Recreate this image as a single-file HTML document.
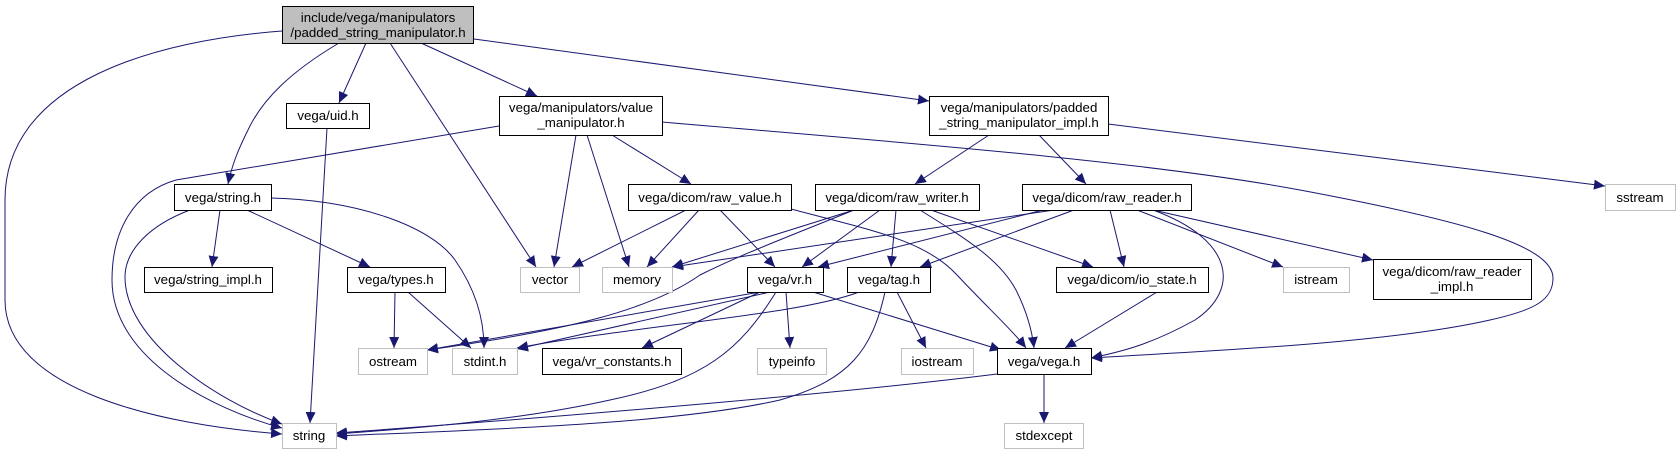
<!DOCTYPE html>
<html><head><meta charset="utf-8"><style>
html,body{margin:0;padding:0;background:#fff;}
svg{display:block}
text{font-family:"Liberation Sans",sans-serif;font-size:13.3px;fill:#000;}
</style></head><body>
<svg width="1680" height="455" viewBox="0 0 1680 455" xmlns="http://www.w3.org/2000/svg">
<defs>
<marker id="a" markerUnits="userSpaceOnUse" markerWidth="12" markerHeight="10" refX="11" refY="5" orient="auto">
<path d="M0,0 L11,5 L0,10 Z" fill="#191970"/>
</marker>
</defs>
<g fill="none" stroke="#191970" stroke-width="1" marker-end="url(#a)">
<path d="M282,31 C160,40 5,80 5,200 L5,300 C5,390 160,425 282,434"/>
<path d="M339,43 C290,72 262,100 248,130 C238,150 232,165 228,184"/>
<path d="M366,43 L339,103"/>
<path d="M390,43 L536,267"/>
<path d="M421,43 L537,96"/>
<path d="M474,39 L929,101"/>
<path d="M327,128 C322,230 315,330 310,423"/>
<path d="M499,126 L176,180 C134,192 112,230 112,280 C112,360 215,410 282,428"/>
<path d="M576,135 L554,267"/>
<path d="M587,135 L629,267"/>
<path d="M612,135 L691,184"/>
<path d="M662,122 C870,140 1140,160 1300,190 C1460,220 1553,245 1553,278 C1553,300 1535,310 1490,320 C1380,345 1180,352 1091,358"/>
<path d="M989,135 L915,184"/>
<path d="M1039,135 L1086,184"/>
<path d="M1108,124 L1605,186"/>
<path d="M190,210 C150,225 125,250 125,277 C125,340 215,400 282,424"/>
<path d="M220,210 L212,267"/>
<path d="M247,210 L370,267"/>
<path d="M271,198 C355,200 430,225 455,260 C476,290 484,320 484,348"/>
<path d="M395,292 L394,348"/>
<path d="M408,292 L471,348"/>
<path d="M686,210 L572,267"/>
<path d="M699,210 L647,267"/>
<path d="M720,210 L775,267"/>
<path d="M791,209 C870,230 925,240 957,275 C990,310 1012,330 1026,348"/>
<path d="M854,210 L672,267"/>
<path d="M880,210 L802,267"/>
<path d="M896,210 L891,267"/>
<path d="M931,210 L1093,267"/>
<path d="M920,210 C968,240 1000,260 1016,290 C1026,310 1032,330 1034,348"/>
<path d="M854,210 C780,240 740,255 700,275 C650,310 570,330 427,350"/>
<path d="M1043,210 L818,267"/>
<path d="M1054,210 L672,267"/>
<path d="M1074,210 L920,267"/>
<path d="M1110,210 L1124,267"/>
<path d="M1153,210 C1235,240 1240,290 1195,320 C1150,345 1120,352 1091,358"/>
<path d="M1137,210 L1283,267"/>
<path d="M1153,210 L1373,260"/>
<path d="M760,292 L642,348"/>
<path d="M786,292 L790,348"/>
<path d="M813,292 L1001,350"/>
<path d="M760,292 L427,350"/>
<path d="M770,292 L517,349"/>
<path d="M859,292 C800,315 640,325 517,348"/>
<path d="M776,292 C740,350 705,380 610,400 C520,420 420,428 336,434"/>
<path d="M885,292 C872,350 850,380 780,400 C670,425 470,430 336,436"/>
<path d="M897,292 L926,348"/>
<path d="M1157,292 L1065,348"/>
<path d="M997,374 C830,395 520,420 336,433"/>
<path d="M1044,374 L1044,423"/>
</g>
<g stroke-width="1">
<rect x="282.5" y="6.5" width="191" height="37" fill="#bfbfbf" stroke="#000"/>
<rect x="286.5" y="103.5" width="83" height="25" fill="#fff" stroke="#000"/>
<rect x="499.5" y="96.5" width="163" height="39" fill="#fff" stroke="#000"/>
<rect x="929.5" y="96.5" width="179" height="39" fill="#fff" stroke="#000"/>
<rect x="174.5" y="184.5" width="97" height="26" fill="#fff" stroke="#000"/>
<rect x="628.5" y="184.5" width="163" height="26" fill="#fff" stroke="#000"/>
<rect x="815.5" y="184.5" width="164" height="26" fill="#fff" stroke="#000"/>
<rect x="1022.5" y="184.5" width="169" height="26" fill="#fff" stroke="#000"/>
<rect x="1605.5" y="184.5" width="70" height="26" fill="#fff" stroke="#bfbfbf"/>
<rect x="144.5" y="267.5" width="128" height="25" fill="#fff" stroke="#000"/>
<rect x="347.5" y="267.5" width="98" height="25" fill="#fff" stroke="#000"/>
<rect x="520.5" y="267.5" width="59" height="25" fill="#fff" stroke="#bfbfbf"/>
<rect x="602.5" y="267.5" width="70" height="25" fill="#fff" stroke="#bfbfbf"/>
<rect x="747.5" y="267.5" width="76" height="25" fill="#fff" stroke="#000"/>
<rect x="847.5" y="267.5" width="83" height="25" fill="#fff" stroke="#000"/>
<rect x="1056.5" y="267.5" width="152" height="25" fill="#fff" stroke="#000"/>
<rect x="1283.5" y="267.5" width="66" height="25" fill="#fff" stroke="#bfbfbf"/>
<rect x="1373.5" y="259.5" width="158" height="40" fill="#fff" stroke="#000"/>
<rect x="358.5" y="348.5" width="69" height="26" fill="#fff" stroke="#bfbfbf"/>
<rect x="452.5" y="348.5" width="65" height="26" fill="#fff" stroke="#bfbfbf"/>
<rect x="542.5" y="348.5" width="139" height="26" fill="#fff" stroke="#000"/>
<rect x="757.5" y="348.5" width="69" height="26" fill="#fff" stroke="#bfbfbf"/>
<rect x="901.5" y="348.5" width="72" height="26" fill="#fff" stroke="#bfbfbf"/>
<rect x="997.5" y="348.5" width="94" height="26" fill="#fff" stroke="#000"/>
<rect x="282.5" y="423.5" width="54" height="25" fill="#fff" stroke="#bfbfbf"/>
<rect x="1004.5" y="423.5" width="79" height="25" fill="#fff" stroke="#bfbfbf"/>
</g>
<g text-anchor="middle">
<text x="378" y="22">include/vega/manipulators</text>
<text x="378" y="37">/padded_string_manipulator.h</text>
<text x="328" y="120">vega/uid.h</text>
<text x="581" y="112">vega/manipulators/value</text>
<text x="581" y="127">_manipulator.h</text>
<text x="1019" y="112">vega/manipulators/padded</text>
<text x="1019" y="127">_string_manipulator_impl.h</text>
<text x="223" y="202">vega/string.h</text>
<text x="710" y="202">vega/dicom/raw_value.h</text>
<text x="897" y="202">vega/dicom/raw_writer.h</text>
<text x="1107" y="202">vega/dicom/raw_reader.h</text>
<text x="1640" y="202">sstream</text>
<text x="208" y="284">vega/string_impl.h</text>
<text x="396" y="284">vega/types.h</text>
<text x="550" y="284">vector</text>
<text x="637" y="284">memory</text>
<text x="785" y="284">vega/vr.h</text>
<text x="889" y="284">vega/tag.h</text>
<text x="1132" y="284">vega/dicom/io_state.h</text>
<text x="1316" y="284">istream</text>
<text x="1452" y="276">vega/dicom/raw_reader</text>
<text x="1452" y="291">_impl.h</text>
<text x="393" y="366">ostream</text>
<text x="485" y="366">stdint.h</text>
<text x="612" y="366">vega/vr_constants.h</text>
<text x="792" y="366">typeinfo</text>
<text x="937" y="366">iostream</text>
<text x="1044" y="366">vega/vega.h</text>
<text x="309" y="440">string</text>
<text x="1044" y="440">stdexcept</text>
</g>
</svg>
</body></html>
